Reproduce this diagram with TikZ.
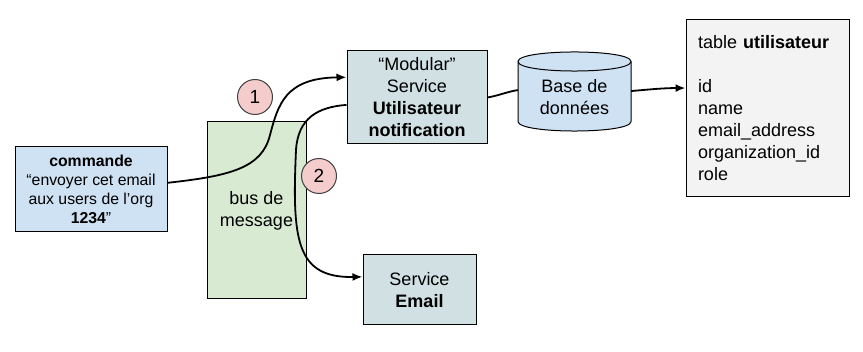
\documentclass[tikz,border=0pt]{standalone}
\usepackage{fontspec}
\setmainfont{Liberation Sans}
\usetikzlibrary{arrows.meta}
\definecolor{cmdblue}{HTML}{CFE2F3}
\definecolor{busgreen}{HTML}{D9EAD3}
\definecolor{svcgrey}{HTML}{D0E0E3}
\definecolor{tabgrey}{HTML}{F3F3F3}
\definecolor{numpink}{HTML}{F4CCCC}

\begin{document}
\begin{tikzpicture}[x=1pt, y=-1pt,
		box/.style = {draw, line width=1pt, inner sep=0pt, align=center,
			font=\fontsize{18}{22}\selectfont},
		num/.style = {circle, draw=black!75, line width=1pt, fill=numpink,
			minimum size=35pt, inner sep=0pt, font=\fontsize{19}{22}\selectfont},
		link/.style = {line width=1.8pt},
		flow/.style = {link, -{Latex[length=10pt,width=8pt]}}]
			\useasboundingbox (0,0) rectangle (863,352);
			
			% Commande
			\node[box, fill=cmdblue, minimum width=152pt, minimum height=85pt,
				font=\fontsize{15.8}{19}\selectfont] (cmd) at (91,189.5)
				{\textbf{commande}\\“envoyer cet email\\aux users de l’org\\\textbf{1234}”};
			
			% Bus
			\node[box, fill=busgreen, minimum width=99pt, minimum height=177pt] (bus) at (256.5,210.5) {bus de\\message};
			
			% Services
			\node[box, fill=svcgrey, minimum width=140pt, minimum height=93pt] (ms) at (417,97.5)
				{“Modular”\\Service\\\textbf{Utilisateur}\\\textbf{notification}};
			\node[box, fill=svcgrey, minimum width=113pt, minimum height=70pt] (se) at (419.5,290)
				{Service\\\textbf{Email}};
			
			% Base de donnees
			\filldraw[fill=cmdblue, line width=1pt] (518,61.5) -- (518,121.5)
				.. controls (518,134.2) and (631,134.2) .. (631,121.5) -- (631,61.5)
				.. controls (631,48.8) and (518,48.8) .. cycle;
			\draw[line width=1pt] (518,61.5) .. controls (518,74.2) and (631,74.2) .. (631,61.5);
			\node[inner sep=0pt, minimum width=113pt, minimum height=60pt, align=center,
				font=\fontsize{18}{22}\selectfont] (db) at (574.5,97) {Base de\\données};
			
			% Table
			\node[box, fill=tabgrey, minimum width=163pt, minimum height=177pt, text width=139pt,
				align=left] (tab) at (767.5,108.5)
				{table \textbf{utilisateur}\\[22pt]id\\name\\email\_address\\organization\_id\\role};
			
			% Etapes
			\node[num] (n1) at (255,97) {1};
			\node[num] (n2) at (319,176) {2};
			
			\draw[flow] (cmd.5) .. controls (230,176) and (262,168) .. (270,135)
				.. controls (278,105) and (285,78) .. (ms.164);
			\draw[flow] (ms.186) .. controls (318,107) and (298,118) .. (296,150)
				.. controls (292,240) and (296,278) .. (se.167);
			\draw[link] (ms.east) to[out=10, in=190] (db.173);
			\draw[flow] (db.6) to[out=5, in=180] (tab.166);
		\end{tikzpicture}
\end{document}
